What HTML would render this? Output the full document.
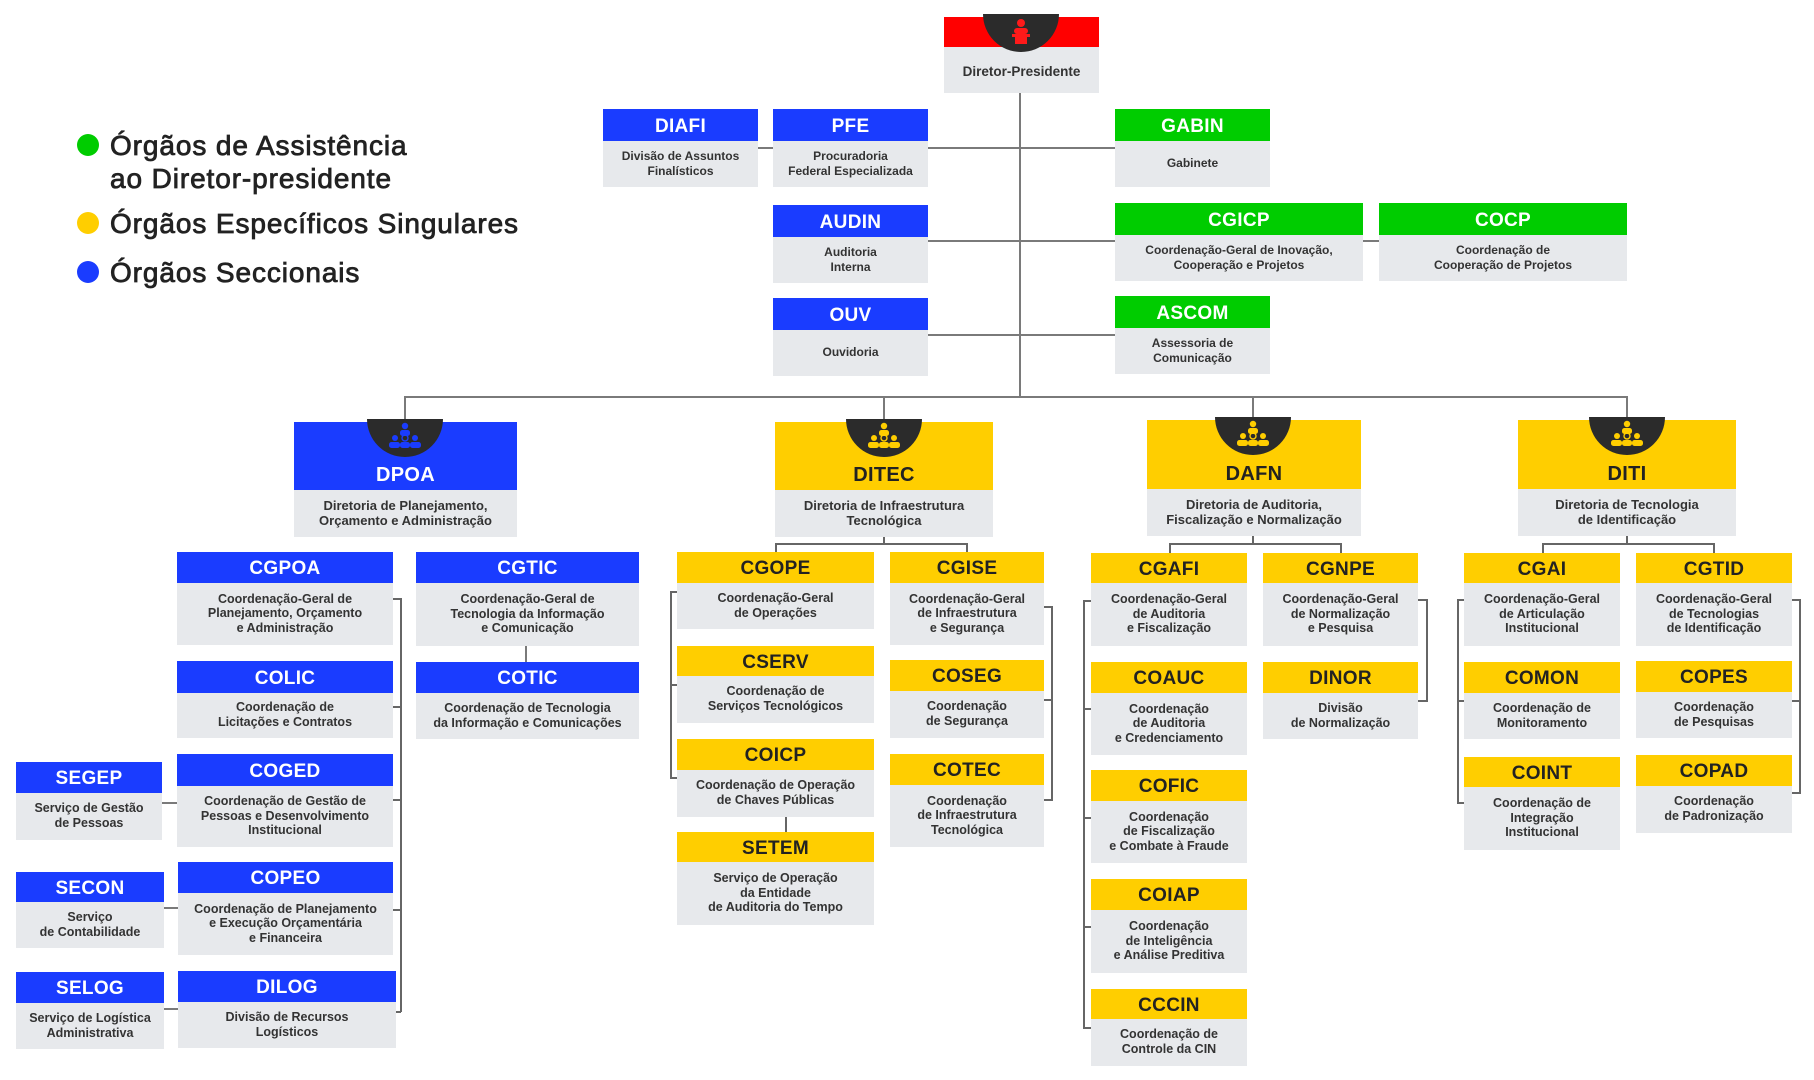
<!DOCTYPE html>
<html><head><meta charset="utf-8">
<style>
html,body{margin:0;padding:0;background:#fff;}
body{width:1814px;height:1080px;position:relative;overflow:hidden;font-family:"Liberation Sans",Arial,sans-serif;}
.b{position:absolute;background:#e7e9ec;}
.h{position:absolute;left:0;right:0;top:0;display:flex;align-items:center;justify-content:center;font-weight:bold;font-size:19px;color:#fff;letter-spacing:0.3px;padding-top:3px;box-sizing:border-box;}
.d{position:absolute;left:0;right:0;bottom:0;display:flex;align-items:center;justify-content:center;text-align:center;font-weight:bold;font-size:12.5px;line-height:14.6px;color:#333;padding-bottom:1px;box-sizing:border-box;}
.t .d{font-size:12px;line-height:14.3px;}
.B{background:#1a3cff;}
.G{background:#00cc00;}
.Y{background:#ffce00;color:#222;}
.R{background:#ff0000;}
.big .h{align-items:flex-end;padding-top:0;padding-bottom:3px;box-sizing:border-box;font-size:20px;}
.big .d{font-size:13px;line-height:15.5px;}
.l{position:absolute;background:#7a7a7a;}
.k{position:absolute;background:#666;}
.sh{position:absolute;width:76px;height:38px;background:#2b2b2b;border-radius:0 0 38px 38px;}
.sh svg{position:absolute;left:0;top:0;}
.lg{position:absolute;left:110px;font-size:28px;line-height:33px;color:#222;letter-spacing:0.9px;-webkit-text-stroke:0.8px #222;white-space:nowrap;}
.dot{position:absolute;left:77px;width:22px;height:22px;border-radius:50%;}
</style></head><body>

<!-- Legend -->
<div class="dot" style="top:134px;background:#00cc00"></div>
<div class="lg" style="top:129px">Órgãos de Assistência</div>
<div class="lg" style="top:162px">ao Diretor-presidente</div>
<div class="dot" style="top:212px;background:#ffce00"></div>
<div class="lg" style="top:207px">Órgãos Específicos Singulares</div>
<div class="dot" style="top:261px;background:#1a3cff"></div>
<div class="lg" style="top:256px">Órgãos Seccionais</div>

<!-- Top connectors -->
<div class="l" style="left:1019px;top:93px;width:2px;height:305px"></div>
<div class="l" style="left:758px;top:147px;width:357px;height:2px"></div>
<div class="l" style="left:928px;top:240px;width:187px;height:2px"></div>
<div class="l" style="left:1363px;top:240px;width:16px;height:2px"></div>
<div class="l" style="left:928px;top:334px;width:187px;height:2px"></div>
<div class="l" style="left:404px;top:396px;width:1224px;height:2px"></div>
<div class="l" style="left:404px;top:396px;width:2px;height:24px"></div>
<div class="l" style="left:883px;top:396px;width:2px;height:24px"></div>
<div class="l" style="left:1252px;top:396px;width:2px;height:22px"></div>
<div class="l" style="left:1626px;top:396px;width:2px;height:22px"></div>

<!-- Diretor-Presidente -->
<div class="b" style="left:944px;top:17px;width:155px;height:76px">
  <div class="h R" style="height:30px"></div>
  <div class="d" style="top:30px;font-size:13.5px;padding-top:4px;padding-bottom:0">Diretor-Presidente</div>
</div>
<div class="sh" style="left:983px;top:14px">
  <svg width="76" height="38" viewBox="0 0 76 38">
    <circle cx="38" cy="9" r="4" fill="#ff1a1a"/>
    <rect x="31" y="14" width="14" height="6" rx="3" fill="#ff1a1a"/>
    <rect x="29" y="20" width="18" height="3" fill="#ff1a1a"/>
    <rect x="32" y="23" width="12" height="7" fill="#ff1a1a"/>
  </svg>
</div>

<!-- Top boxes -->
<div class="b t" style="left:603px;top:109px;width:155px;height:78px"><div class="h B" style="height:32px">DIAFI</div><div class="d" style="top:32px">Divisão de Assuntos<br>Finalísticos</div></div>
<div class="b t" style="left:773px;top:109px;width:155px;height:78px"><div class="h B" style="height:32px">PFE</div><div class="d" style="top:32px">Procuradoria<br>Federal Especializada</div></div>
<div class="b t" style="left:773px;top:205px;width:155px;height:78px"><div class="h B" style="height:32px">AUDIN</div><div class="d" style="top:32px">Auditoria<br>Interna</div></div>
<div class="b t" style="left:773px;top:298px;width:155px;height:78px"><div class="h B" style="height:32px">OUV</div><div class="d" style="top:32px">Ouvidoria</div></div>
<div class="b t" style="left:1115px;top:109px;width:155px;height:78px"><div class="h G" style="height:32px">GABIN</div><div class="d" style="top:32px">Gabinete</div></div>
<div class="b t" style="left:1115px;top:203px;width:248px;height:78px"><div class="h G" style="height:32px">CGICP</div><div class="d" style="top:32px">Coordenação-Geral de Inovação,<br>Cooperação e Projetos</div></div>
<div class="b t" style="left:1379px;top:203px;width:248px;height:78px"><div class="h G" style="height:32px">COCP</div><div class="d" style="top:32px">Coordenação de<br>Cooperação de Projetos</div></div>
<div class="b t" style="left:1115px;top:296px;width:155px;height:78px"><div class="h G" style="height:32px">ASCOM</div><div class="d" style="top:32px">Assessoria de<br>Comunicação</div></div>

<!-- Directorates -->
<div class="b big" style="left:294px;top:422px;width:223px;height:115px"><div class="h B" style="height:68px">DPOA</div><div class="d" style="top:68px">Diretoria de Planejamento,<br>Orçamento e Administração</div></div>
<div class="b big" style="left:775px;top:422px;width:218px;height:115px"><div class="h Y" style="height:68px">DITEC</div><div class="d" style="top:68px">Diretoria de Infraestrutura<br>Tecnológica</div></div>
<div class="b big" style="left:1147px;top:420px;width:214px;height:116px"><div class="h Y" style="height:69px">DAFN</div><div class="d" style="top:69px">Diretoria de Auditoria,<br>Fiscalização e Normalização</div></div>
<div class="b big" style="left:1518px;top:420px;width:218px;height:116px"><div class="h Y" style="height:69px">DITI</div><div class="d" style="top:69px">Diretoria de Tecnologia<br>de Identificação</div></div>

<!-- Shields -->
<div class="sh" style="left:367px;top:419px"><svg width="76" height="38" viewBox="0 0 76 38"><g fill="#1a3cff"><circle cx="38" cy="7" r="3.2"/><rect x="33" y="11" width="10" height="6" rx="2.5"/><circle cx="28" cy="19" r="3"/><circle cx="48" cy="19" r="3"/><circle cx="38" cy="19" r="3" fill="none" stroke="#1a3cff" stroke-width="1.4"/><rect x="22" y="23" width="11" height="6" rx="2.5"/><rect x="33" y="23" width="10" height="6" rx="2.5"/><rect x="43" y="23" width="11" height="6" rx="2.5"/></g></svg></div>
<div class="sh" style="left:846px;top:419px"><svg width="76" height="38" viewBox="0 0 76 38"><g fill="#ffce00"><circle cx="38" cy="7" r="3.2"/><rect x="33" y="11" width="10" height="6" rx="2.5"/><circle cx="28" cy="19" r="3"/><circle cx="48" cy="19" r="3"/><circle cx="38" cy="19" r="3" fill="none" stroke="#ffce00" stroke-width="1.4"/><rect x="22" y="23" width="11" height="6" rx="2.5"/><rect x="33" y="23" width="10" height="6" rx="2.5"/><rect x="43" y="23" width="11" height="6" rx="2.5"/></g></svg></div>
<div class="sh" style="left:1215px;top:417px"><svg width="76" height="38" viewBox="0 0 76 38"><g fill="#ffce00"><circle cx="38" cy="7" r="3.2"/><rect x="33" y="11" width="10" height="6" rx="2.5"/><circle cx="28" cy="19" r="3"/><circle cx="48" cy="19" r="3"/><circle cx="38" cy="19" r="3" fill="none" stroke="#ffce00" stroke-width="1.4"/><rect x="22" y="23" width="11" height="6" rx="2.5"/><rect x="33" y="23" width="10" height="6" rx="2.5"/><rect x="43" y="23" width="11" height="6" rx="2.5"/></g></svg></div>
<div class="sh" style="left:1589px;top:417px"><svg width="76" height="38" viewBox="0 0 76 38"><g fill="#ffce00"><circle cx="38" cy="7" r="3.2"/><rect x="33" y="11" width="10" height="6" rx="2.5"/><circle cx="28" cy="19" r="3"/><circle cx="48" cy="19" r="3"/><circle cx="38" cy="19" r="3" fill="none" stroke="#ffce00" stroke-width="1.4"/><rect x="22" y="23" width="11" height="6" rx="2.5"/><rect x="33" y="23" width="10" height="6" rx="2.5"/><rect x="43" y="23" width="11" height="6" rx="2.5"/></g></svg></div>

<!-- DPOA group connectors -->
<div class="k" style="left:400px;top:598px;width:1.5px;height:414px"></div>
<div class="k" style="left:393px;top:598px;width:8px;height:1.5px"></div>
<div class="k" style="left:393px;top:706px;width:8px;height:1.5px"></div>
<div class="k" style="left:393px;top:799px;width:8px;height:1.5px"></div>
<div class="k" style="left:393px;top:909px;width:8px;height:1.5px"></div>
<div class="k" style="left:396px;top:1011px;width:5px;height:1.5px"></div>
<div class="l" style="left:162px;top:802px;width:15px;height:1.5px"></div>
<div class="l" style="left:164px;top:907px;width:14px;height:1.5px"></div>
<div class="l" style="left:164px;top:1008px;width:14px;height:1.5px"></div>
<div class="l" style="left:525px;top:646px;width:1.5px;height:16px"></div>

<!-- DPOA group boxes -->
<div class="b" style="left:177px;top:552px;width:216px;height:93px"><div class="h B" style="height:31px">CGPOA</div><div class="d" style="top:31px">Coordenação-Geral de<br>Planejamento, Orçamento<br>e Administração</div></div>
<div class="b" style="left:177px;top:661px;width:216px;height:77px"><div class="h B" style="height:32px">COLIC</div><div class="d" style="top:32px">Coordenação de<br>Licitações e Contratos</div></div>
<div class="b" style="left:177px;top:754px;width:216px;height:93px"><div class="h B" style="height:32px">COGED</div><div class="d" style="top:32px">Coordenação de Gestão de<br>Pessoas e Desenvolvimento<br>Institucional</div></div>
<div class="b" style="left:178px;top:862px;width:215px;height:93px"><div class="h B" style="height:31px">COPEO</div><div class="d" style="top:31px">Coordenação de Planejamento<br>e Execução Orçamentária<br>e Financeira</div></div>
<div class="b" style="left:178px;top:971px;width:218px;height:77px"><div class="h B" style="height:31px">DILOG</div><div class="d" style="top:31px">Divisão de Recursos<br>Logísticos</div></div>
<div class="b" style="left:416px;top:552px;width:223px;height:94px"><div class="h B" style="height:31px">CGTIC</div><div class="d" style="top:31px">Coordenação-Geral de<br>Tecnologia da Informação<br>e Comunicação</div></div>
<div class="b" style="left:416px;top:662px;width:223px;height:77px"><div class="h B" style="height:31px">COTIC</div><div class="d" style="top:31px">Coordenação de Tecnologia<br>da Informação e Comunicações</div></div>
<div class="b" style="left:16px;top:762px;width:146px;height:78px"><div class="h B" style="height:31px">SEGEP</div><div class="d" style="top:31px">Serviço de Gestão<br>de Pessoas</div></div>
<div class="b" style="left:16px;top:872px;width:148px;height:76px"><div class="h B" style="height:30px">SECON</div><div class="d" style="top:30px">Serviço<br>de Contabilidade</div></div>
<div class="b" style="left:16px;top:972px;width:148px;height:77px"><div class="h B" style="height:31px">SELOG</div><div class="d" style="top:31px">Serviço de Logística<br>Administrativa</div></div>

<!-- DITEC connectors -->
<div class="k" style="left:883px;top:537px;width:1.5px;height:8px"></div>
<div class="k" style="left:775px;top:543px;width:193px;height:1.5px"></div>
<div class="k" style="left:775px;top:543px;width:1.5px;height:9px"></div>
<div class="k" style="left:966px;top:543px;width:1.5px;height:9px"></div>
<div class="k" style="left:670px;top:591px;width:1.5px;height:188px"></div>
<div class="k" style="left:670px;top:591px;width:7px;height:1.5px"></div>
<div class="k" style="left:670px;top:684px;width:7px;height:1.5px"></div>
<div class="k" style="left:670px;top:777px;width:7px;height:1.5px"></div>
<div class="k" style="left:1051px;top:606px;width:1.5px;height:195px"></div>
<div class="k" style="left:1044px;top:606px;width:8px;height:1.5px"></div>
<div class="k" style="left:1044px;top:699px;width:8px;height:1.5px"></div>
<div class="k" style="left:1044px;top:799px;width:8px;height:1.5px"></div>
<div class="k" style="left:785px;top:817px;width:1.5px;height:15px"></div>

<!-- DITEC boxes -->
<div class="b" style="left:677px;top:552px;width:197px;height:77px"><div class="h Y" style="height:31px">CGOPE</div><div class="d" style="top:31px">Coordenação-Geral<br>de Operações</div></div>
<div class="b" style="left:677px;top:646px;width:197px;height:77px"><div class="h Y" style="height:30px">CSERV</div><div class="d" style="top:30px">Coordenação de<br>Serviços Tecnológicos</div></div>
<div class="b" style="left:677px;top:739px;width:197px;height:78px"><div class="h Y" style="height:31px">COICP</div><div class="d" style="top:31px">Coordenação de Operação<br>de Chaves Públicas</div></div>
<div class="b" style="left:677px;top:832px;width:197px;height:93px"><div class="h Y" style="height:30px">SETEM</div><div class="d" style="top:30px">Serviço de Operação<br>da Entidade<br>de Auditoria do Tempo</div></div>
<div class="b" style="left:890px;top:552px;width:154px;height:93px"><div class="h Y" style="height:31px">CGISE</div><div class="d" style="top:31px">Coordenação-Geral<br>de Infraestrutura<br>e Segurança</div></div>
<div class="b" style="left:890px;top:660px;width:154px;height:78px"><div class="h Y" style="height:31px">COSEG</div><div class="d" style="top:31px">Coordenação<br>de Segurança</div></div>
<div class="b" style="left:890px;top:754px;width:154px;height:93px"><div class="h Y" style="height:31px">COTEC</div><div class="d" style="top:31px">Coordenação<br>de Infraestrutura<br>Tecnológica</div></div>

<!-- DAFN connectors -->
<div class="k" style="left:1252px;top:536px;width:1.5px;height:9px"></div>
<div class="k" style="left:1169px;top:543px;width:172px;height:1.5px"></div>
<div class="k" style="left:1169px;top:543px;width:1.5px;height:10px"></div>
<div class="k" style="left:1340px;top:543px;width:1.5px;height:10px"></div>
<div class="k" style="left:1083px;top:600px;width:1.5px;height:429px"></div>
<div class="k" style="left:1083px;top:600px;width:8px;height:1.5px"></div>
<div class="k" style="left:1083px;top:708px;width:8px;height:1.5px"></div>
<div class="k" style="left:1083px;top:817px;width:8px;height:1.5px"></div>
<div class="k" style="left:1083px;top:926px;width:8px;height:1.5px"></div>
<div class="k" style="left:1083px;top:1027px;width:8px;height:1.5px"></div>
<div class="k" style="left:1426px;top:599px;width:1.5px;height:103px"></div>
<div class="k" style="left:1418px;top:599px;width:9px;height:1.5px"></div>
<div class="k" style="left:1418px;top:700px;width:9px;height:1.5px"></div>

<!-- DAFN boxes -->
<div class="b" style="left:1091px;top:553px;width:156px;height:93px"><div class="h Y" style="height:30px">CGAFI</div><div class="d" style="top:30px">Coordenação-Geral<br>de Auditoria<br>e Fiscalização</div></div>
<div class="b" style="left:1091px;top:662px;width:156px;height:93px"><div class="h Y" style="height:31px">COAUC</div><div class="d" style="top:31px">Coordenação<br>de Auditoria<br>e Credenciamento</div></div>
<div class="b" style="left:1091px;top:770px;width:156px;height:93px"><div class="h Y" style="height:31px">COFIC</div><div class="d" style="top:31px">Coordenação<br>de Fiscalização<br>e Combate à Fraude</div></div>
<div class="b" style="left:1091px;top:879px;width:156px;height:94px"><div class="h Y" style="height:31px">COIAP</div><div class="d" style="top:31px">Coordenação<br>de Inteligência<br>e Análise Preditiva</div></div>
<div class="b" style="left:1091px;top:989px;width:156px;height:77px"><div class="h Y" style="height:30px">CCCIN</div><div class="d" style="top:30px">Coordenação de<br>Controle da CIN</div></div>
<div class="b" style="left:1263px;top:553px;width:155px;height:93px"><div class="h Y" style="height:30px">CGNPE</div><div class="d" style="top:30px">Coordenação-Geral<br>de Normalização<br>e Pesquisa</div></div>
<div class="b" style="left:1263px;top:662px;width:155px;height:77px"><div class="h Y" style="height:31px">DINOR</div><div class="d" style="top:31px">Divisão<br>de Normalização</div></div>

<!-- DITI connectors -->
<div class="k" style="left:1626px;top:536px;width:1.5px;height:9px"></div>
<div class="k" style="left:1542px;top:543px;width:172px;height:1.5px"></div>
<div class="k" style="left:1542px;top:543px;width:1.5px;height:10px"></div>
<div class="k" style="left:1713px;top:543px;width:1.5px;height:10px"></div>
<div class="k" style="left:1457px;top:599px;width:1.5px;height:205px"></div>
<div class="k" style="left:1457px;top:599px;width:7px;height:1.5px"></div>
<div class="k" style="left:1457px;top:700px;width:7px;height:1.5px"></div>
<div class="k" style="left:1457px;top:802px;width:7px;height:1.5px"></div>
<div class="k" style="left:1799px;top:599px;width:1.5px;height:195px"></div>
<div class="k" style="left:1792px;top:599px;width:8px;height:1.5px"></div>
<div class="k" style="left:1792px;top:700px;width:8px;height:1.5px"></div>
<div class="k" style="left:1792px;top:792px;width:8px;height:1.5px"></div>

<!-- DITI boxes -->
<div class="b" style="left:1464px;top:553px;width:156px;height:93px"><div class="h Y" style="height:30px">CGAI</div><div class="d" style="top:30px">Coordenação-Geral<br>de Articulação<br>Institucional</div></div>
<div class="b" style="left:1464px;top:662px;width:156px;height:77px"><div class="h Y" style="height:31px">COMON</div><div class="d" style="top:31px">Coordenação de<br>Monitoramento</div></div>
<div class="b" style="left:1464px;top:757px;width:156px;height:93px"><div class="h Y" style="height:30px">COINT</div><div class="d" style="top:30px">Coordenação de<br>Integração<br>Institucional</div></div>
<div class="b" style="left:1636px;top:553px;width:156px;height:93px"><div class="h Y" style="height:30px">CGTID</div><div class="d" style="top:30px">Coordenação-Geral<br>de Tecnologias<br>de Identificação</div></div>
<div class="b" style="left:1636px;top:661px;width:156px;height:77px"><div class="h Y" style="height:31px">COPES</div><div class="d" style="top:31px">Coordenação<br>de Pesquisas</div></div>
<div class="b" style="left:1636px;top:755px;width:156px;height:78px"><div class="h Y" style="height:31px">COPAD</div><div class="d" style="top:31px">Coordenação<br>de Padronização</div></div>

</body></html>
